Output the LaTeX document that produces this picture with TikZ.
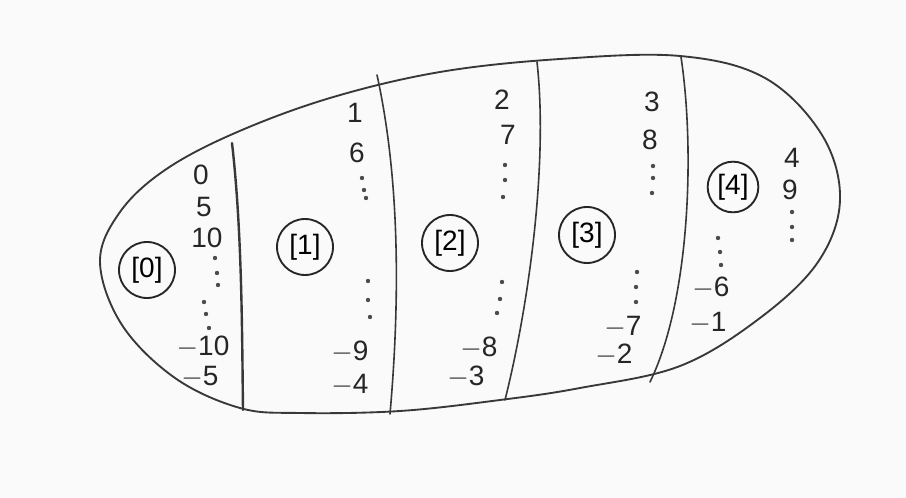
\documentclass[tikz,border=0pt]{standalone}
\usepackage{fontspec}
\setmainfont{Liberation Sans}
\begin{document}
\begin{tikzpicture}[x={(0.75pt,0)},y={(0,-0.75pt)},
  ink/.style={draw=black!78,line width=1.2pt,line cap=round,line join=round},
  cls/.style={circle,draw=black!85,line width=1.4pt,minimum size=42pt,inner sep=0pt,font=\fontsize{21}{22}\selectfont},
  num/.style={font=\fontsize{21}{22}\selectfont,text=black!85,inner sep=0pt},
  dotmark/.style={fill=black!70}]
\fill[black!2] (0,0) rectangle (906,498);
\useasboundingbox (0,0) rectangle (906,498);
% outer egg
\draw[ink,line width=1.4pt] plot[smooth cycle,tension=0.6] coordinates {
 (100,262) (120,212) (165,170) (235,133) (330,98) (440,72) (560,59) (680,56)
 (765,78) (822,135) (840,200) (818,262) (760,318) (680,366) (580,388) (500,400)
 (400,411) (300,413) (240,408) (175,378) (122,325)};
% dividers
\draw[ink,line width=1.8pt] (232,143) .. controls (242,230) and (242,330) .. (243,410);
\draw[ink] (377,75) .. controls (400,180) and (400,300) .. (390,414);
\draw[ink] (537,62) .. controls (548,160) and (530,300) .. (505,400);
\draw[ink] (681,57) .. controls (695,150) and (690,300) .. (650,382);
% class nodes
\node[cls] (c0) at (147,270) {[0]};
\node[cls] (c1) at (305,247) {[1]};
\node[cls] (c2) at (450,243) {[2]};
\node[cls] (c3) at (587,235) {[3]};
\node[cls,minimum size=38pt] (c4) at (733,187) {[4]};
% class 0
\node[num] (a1) at (201,175) {0};
\node[num] (a2) at (204,207) {5};
\node[num] (a3) at (207,238) {10};
\node[num] (a4) at (203,347) {$-$10};
\node[num] (a5) at (200,377) {$-$5};
% class 1
\node[num] (b1) at (355,113) {1};
\node[num] (b2) at (357,153) {6};
\node[num] (b3) at (350,352) {$-$9};
\node[num] (b4) at (350,385) {$-$4};
% class 2
\node[num] (d1) at (502,100) {2};
\node[num] (d2) at (508,135) {7};
\node[num] (d3) at (479,348) {$-$8};
\node[num] (d4) at (466,377) {$-$3};
% class 3
\node[num] (e1) at (652,102) {3};
\node[num] (e2) at (650,140) {8};
\node[num] (e3) at (623,327) {$-$7};
\node[num] (e4) at (614,355) {$-$2};
% class 4
\node[num] (f1) at (792,158) {4};
\node[num] (f2) at (790,190) {9};
\node[num] (f3) at (711,288) {$-$6};
\node[num] (f4) at (708,323) {$-$1};
% dots
\foreach \p in {(215,258),(217,273),(218,285),(204,302),(206,314),(209,328),
  (362,178),(364,190),(366,198),(368,281),(368,300),(370,317),
  (505,165),(505,180),(503,197),(502,282),(500,299),(497,313),
  (653,166),(653,178),(652,193),(637,272),(636,287),(636,302),
  (792,212),(792,227),(792,240),(718,238),(720,252),(721,265)}
  \fill[dotmark] \p circle (2.2);
\end{tikzpicture}
\end{document}
